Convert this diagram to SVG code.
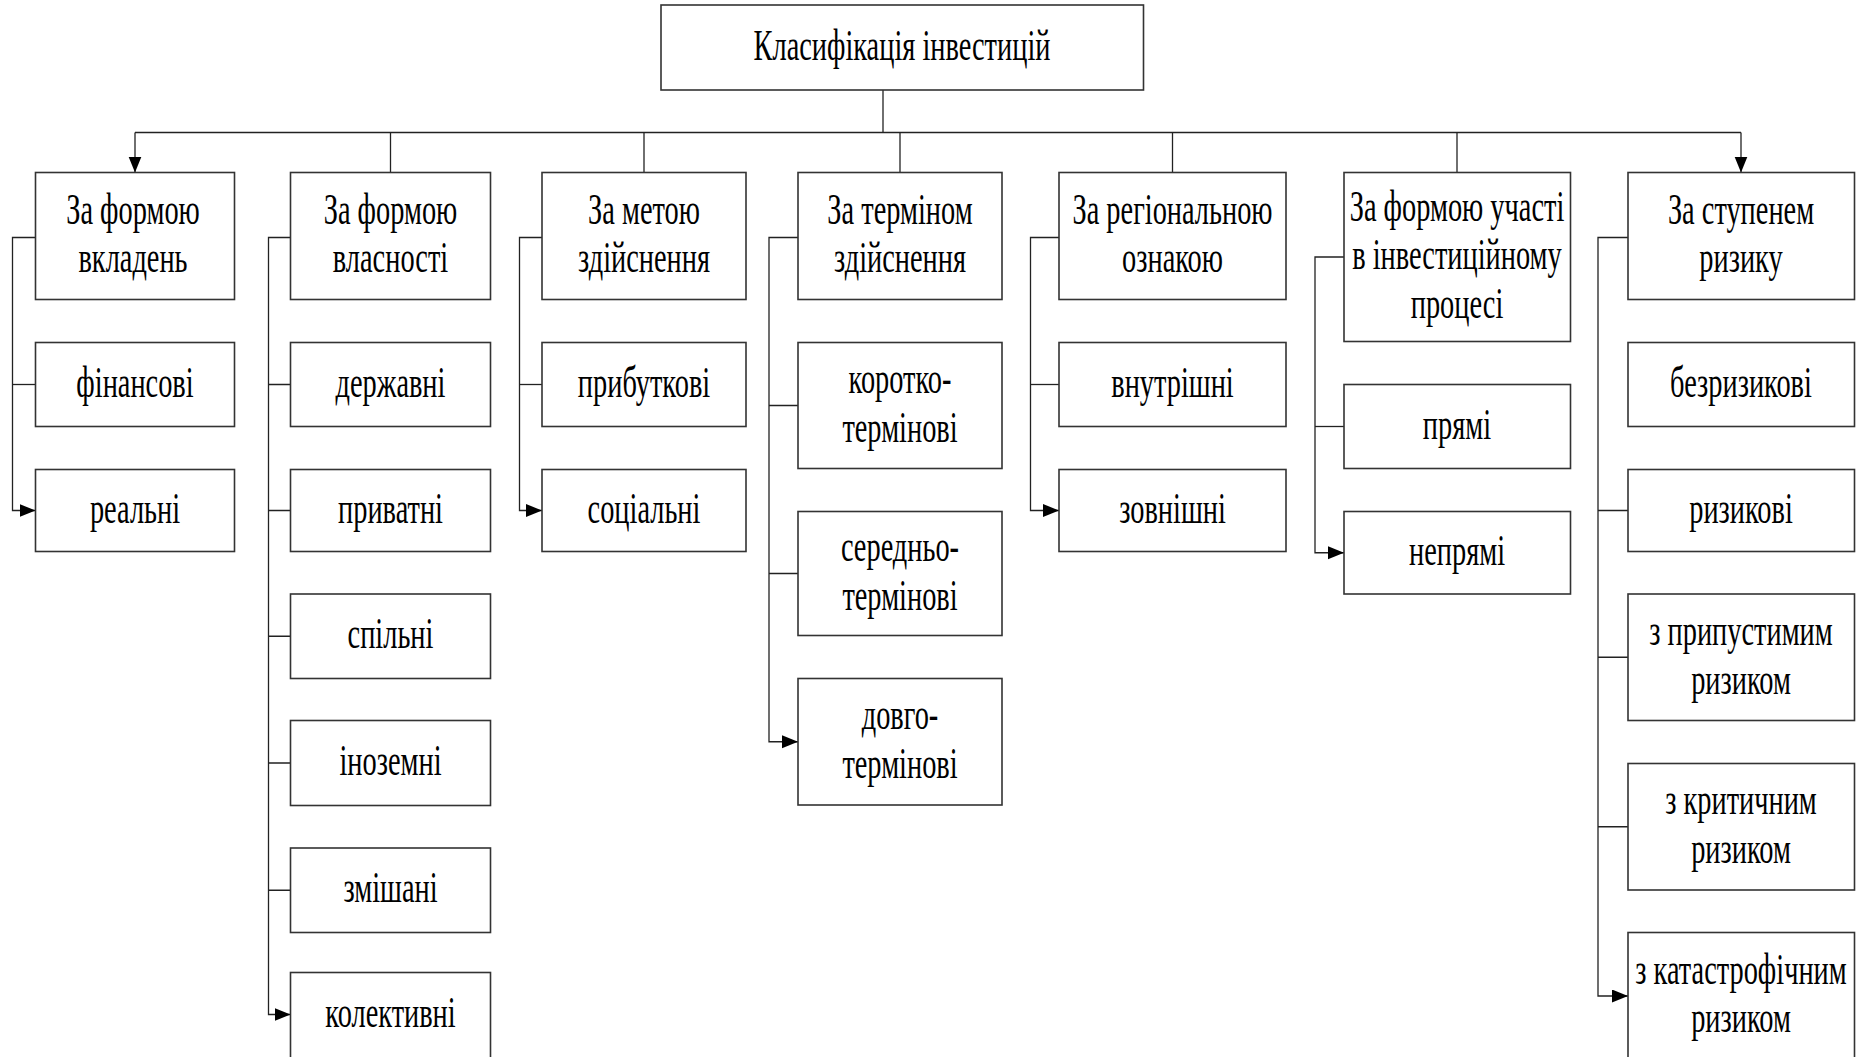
<svg xmlns="http://www.w3.org/2000/svg" width="1865" height="1057" viewBox="0 0 1865 1057">
  <style>
    .box { fill: #ffffff; stroke: #333333; stroke-width: 1.6; }
    .ln { fill: none; stroke: #222222; stroke-width: 1.3; }
    .t { font-family: "Liberation Serif", "Times New Roman", serif; font-size: 44px; fill: #000000; text-anchor: middle; }
  </style>
  <defs>
    <marker id="arrow" markerUnits="userSpaceOnUse" markerWidth="17" markerHeight="14" refX="16" refY="6.5" orient="auto">
      <path d="M0,0 L16,6.5 L0,13 Z" fill="#000000"/>
    </marker>
  </defs>
  <rect width="1865" height="1057" fill="#ffffff"/>

  <!-- connectors -->
  <g id="connectors">
    <path class="ln" d="M883 90 V132.5"/>
    <path class="ln" d="M135 132.5 H1741"/>
    <path class="ln" d="M135 132.5 V172.5" marker-end="url(#arrow)"/>
    <path class="ln" d="M1741 132.5 V172.5" marker-end="url(#arrow)"/>
    <path class="ln" d="M390.5 132.5 V172.5"/>
    <path class="ln" d="M644 132.5 V172.5"/>
    <path class="ln" d="M900 132.5 V172.5"/>
    <path class="ln" d="M1172.5 132.5 V172.5"/>
    <path class="ln" d="M1457 132.5 V172.5"/>

    <!-- За формою вкладень -->
    <path class="ln" d="M35.5 237.5 H12.5 V510.5 H35.5" marker-end="url(#arrow)"/>
    <path class="ln" d="M12.5 384.5 H35.5"/>
    <!-- За формою власності -->
    <path class="ln" d="M290.5 237.5 H268.5 V1014.5 H290.5" marker-end="url(#arrow)"/>
    <path class="ln" d="M268.5 384.5 H290.5 M268.5 510.5 H290.5 M268.5 636.25 H290.5 M268.5 763 H290.5 M268.5 890.25 H290.5"/>
    <!-- За метою здійснення -->
    <path class="ln" d="M542 237.5 H519.5 V510.5 H542" marker-end="url(#arrow)"/>
    <path class="ln" d="M519.5 384.5 H542"/>
    <!-- За терміном здійснення -->
    <path class="ln" d="M798 237.5 H769 V741.75 H798" marker-end="url(#arrow)"/>
    <path class="ln" d="M769 405.5 H798 M769 573.5 H798"/>
    <!-- За регіональною ознакою -->
    <path class="ln" d="M1059 237.5 H1030.5 V510.5 H1059" marker-end="url(#arrow)"/>
    <path class="ln" d="M1030.5 384.5 H1059"/>
    <!-- За формою участі -->
    <path class="ln" d="M1344 257 H1315 V552.75 H1344" marker-end="url(#arrow)"/>
    <path class="ln" d="M1315 426.5 H1344"/>
    <!-- За ступенем ризику -->
    <path class="ln" d="M1628 237.5 H1598 V996 H1628" marker-end="url(#arrow)"/>
    <path class="ln" d="M1598 510.5 H1628 M1598 657.25 H1628 M1598 826.75 H1628"/>
  </g>

  <!-- root -->
  <g id="root">
    <rect class="box" x="661" y="5" width="482.5" height="85"/>
    <text class="t" transform="translate(902 60) scale(0.645 1)">Класифікація інвестицій</text>
  </g>

  <!-- column 1 -->
  <g id="c1">
    <rect class="box" x="35.5" y="172.5" width="199" height="127"/>
    <text class="t" transform="translate(133 223.5) scale(0.645 1)">За формою<tspan x="0" dy="49">вкладень</tspan></text>
  </g>
  <g id="c1-fin">
    <rect class="box" x="35.5" y="342.5" width="199" height="84"/>
    <text class="t" transform="translate(135 396.5) scale(0.645 1)">фінансові</text>
  </g>
  <g id="c1-real">
    <rect class="box" x="35.5" y="469.5" width="199" height="82"/>
    <text class="t" transform="translate(135 522.5) scale(0.645 1)">реальні</text>
  </g>

  <!-- column 2 -->
  <g id="c2">
    <rect class="box" x="290.5" y="172.5" width="200" height="127"/>
    <text class="t" transform="translate(390.5 223.5) scale(0.645 1)">За формою<tspan x="0" dy="49">власності</tspan></text>
  </g>
  <g id="c2-state">
    <rect class="box" x="290.5" y="342.5" width="200" height="84"/>
    <text class="t" transform="translate(390.5 396.5) scale(0.645 1)">державні</text>
  </g>
  <g id="c2-private">
    <rect class="box" x="290.5" y="469.5" width="200" height="82"/>
    <text class="t" transform="translate(390.5 522.5) scale(0.645 1)">приватні</text>
  </g>
  <g id="c2-joint">
    <rect class="box" x="290.5" y="594" width="200" height="84.5"/>
    <text class="t" transform="translate(390.5 648.25) scale(0.645 1)">спільні</text>
  </g>
  <g id="c2-foreign">
    <rect class="box" x="290.5" y="720.5" width="200" height="85"/>
    <text class="t" transform="translate(390.5 775) scale(0.645 1)">іноземні</text>
  </g>
  <g id="c2-mixed">
    <rect class="box" x="290.5" y="848" width="200" height="84.5"/>
    <text class="t" transform="translate(390.5 902.25) scale(0.645 1)">змішані</text>
  </g>
  <g id="c2-collective">
    <rect class="box" x="290.5" y="972.5" width="200" height="100"/>
    <text class="t" transform="translate(390.5 1026.5) scale(0.645 1)">колективні</text>
  </g>

  <!-- column 3 -->
  <g id="c3">
    <rect class="box" x="542" y="172.5" width="204" height="127"/>
    <text class="t" transform="translate(644 223.5) scale(0.645 1)">За метою<tspan x="0" dy="49">здійснення</tspan></text>
  </g>
  <g id="c3-profit">
    <rect class="box" x="542" y="342.5" width="204" height="84"/>
    <text class="t" transform="translate(644 396.5) scale(0.645 1)">прибуткові</text>
  </g>
  <g id="c3-social">
    <rect class="box" x="542" y="469.5" width="204" height="82"/>
    <text class="t" transform="translate(644 522.5) scale(0.645 1)">соціальні</text>
  </g>

  <!-- column 4 -->
  <g id="c4">
    <rect class="box" x="798" y="172.5" width="204" height="127"/>
    <text class="t" transform="translate(900 223.5) scale(0.645 1)">За терміном<tspan x="0" dy="49">здійснення</tspan></text>
  </g>
  <g id="c4-short">
    <rect class="box" x="798" y="342.5" width="204" height="126"/>
    <text class="t" transform="translate(900 393) scale(0.645 1)">коротко-<tspan x="0" dy="49">термінові</tspan></text>
  </g>
  <g id="c4-medium">
    <rect class="box" x="798" y="511.5" width="204" height="124"/>
    <text class="t" transform="translate(900 561) scale(0.645 1)">середньо-<tspan x="0" dy="49">термінові</tspan></text>
  </g>
  <g id="c4-long">
    <rect class="box" x="798" y="678.5" width="204" height="126.5"/>
    <text class="t" transform="translate(900 729.25) scale(0.645 1)">довго-<tspan x="0" dy="49">термінові</tspan></text>
  </g>

  <!-- column 5 -->
  <g id="c5">
    <rect class="box" x="1059" y="172.5" width="227" height="127"/>
    <text class="t" transform="translate(1172.5 223.5) scale(0.645 1)">За регіональною<tspan x="0" dy="49">ознакою</tspan></text>
  </g>
  <g id="c5-internal">
    <rect class="box" x="1059" y="342.5" width="227" height="84"/>
    <text class="t" transform="translate(1172.5 396.5) scale(0.645 1)">внутрішні</text>
  </g>
  <g id="c5-external">
    <rect class="box" x="1059" y="469.5" width="227" height="82"/>
    <text class="t" transform="translate(1172.5 522.5) scale(0.645 1)">зовнішні</text>
  </g>

  <!-- column 6 -->
  <g id="c6">
    <rect class="box" x="1344" y="172.5" width="226.5" height="169"/>
    <text class="t" transform="translate(1457 220.5) scale(0.645 1)">За формою участі<tspan x="0" dy="49">в інвестиційному</tspan><tspan x="0" dy="49">процесі</tspan></text>
  </g>
  <g id="c6-direct">
    <rect class="box" x="1344" y="384.5" width="226.5" height="84"/>
    <text class="t" transform="translate(1457 438.5) scale(0.645 1)">прямі</text>
  </g>
  <g id="c6-indirect">
    <rect class="box" x="1344" y="511.5" width="226.5" height="82.5"/>
    <text class="t" transform="translate(1457 564.75) scale(0.645 1)">непрямі</text>
  </g>

  <!-- column 7 -->
  <g id="c7">
    <rect class="box" x="1628" y="172.5" width="226.5" height="127"/>
    <text class="t" transform="translate(1741 223.5) scale(0.645 1)">За ступенем<tspan x="0" dy="49">ризику</tspan></text>
  </g>
  <g id="c7-riskfree">
    <rect class="box" x="1628" y="342.5" width="226.5" height="84"/>
    <text class="t" transform="translate(1741 396.5) scale(0.645 1)">безризикові</text>
  </g>
  <g id="c7-risky">
    <rect class="box" x="1628" y="469.5" width="226.5" height="82"/>
    <text class="t" transform="translate(1741 522.5) scale(0.645 1)">ризикові</text>
  </g>
  <g id="c7-acceptable">
    <rect class="box" x="1628" y="594" width="226.5" height="126.5"/>
    <text class="t" transform="translate(1741 644.75) scale(0.645 1)">з припустимим<tspan x="0" dy="49">ризиком</tspan></text>
  </g>
  <g id="c7-critical">
    <rect class="box" x="1628" y="763.5" width="226.5" height="126.5"/>
    <text class="t" transform="translate(1741 814.25) scale(0.645 1)">з критичним<tspan x="0" dy="49">ризиком</tspan></text>
  </g>
  <g id="c7-catastrophic">
    <rect class="box" x="1628" y="932.5" width="226.5" height="140"/>
    <text class="t" transform="translate(1741 983.5) scale(0.645 1)">з катастрофічним<tspan x="0" dy="49">ризиком</tspan></text>
  </g>
</svg>
